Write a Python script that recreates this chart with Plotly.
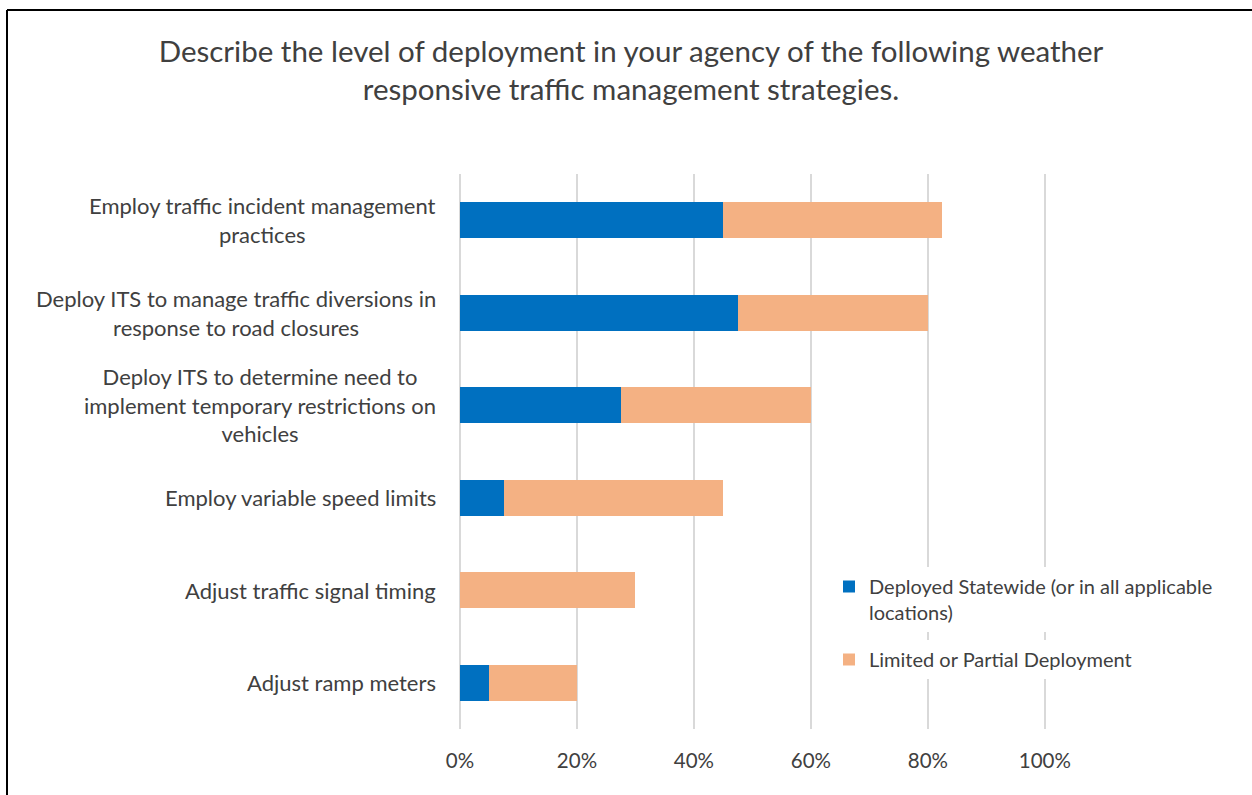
import plotly.graph_objects as go

categories = [
    "Employ traffic incident management<br>practices",
    "Deploy ITS to manage traffic diversions in<br>response to road closures",
    "Deploy ITS to determine need to<br>implement temporary restrictions on<br>vehicles",
    "Employ variable speed limits",
    "Adjust traffic signal timing",
    "Adjust ramp meters",
]
deployed_statewide = [0.45, 0.475, 0.275, 0.075, 0.0, 0.05]
limited_partial = [0.375, 0.325, 0.325, 0.375, 0.30, 0.15]
x_ticks = [0, 0.2, 0.4, 0.6, 0.8, 1.0]
x_tick_labels = ["0%", "20%", "40%", "60%", "80%", "100%"]

FONT = "Lato"
TXT = "#404040"
W, H = 1252, 795
L, R, T, B = 460, 206, 174, 66
pw = W - L - R
ph = H - T - B

def px(x):
    return (x - L) / pw

def py(y):
    return (H - B - y) / ph

fig = go.Figure()
fig.add_trace(go.Bar(
    y=categories, x=deployed_statewide, orientation="h",
    name="Deployed Statewide (or in all applicable<br>locations)",
    marker=dict(color="#0070C0", line=dict(width=0)),
    legend="legend", showlegend=True,
))
fig.add_trace(go.Bar(
    y=categories, x=limited_partial, orientation="h",
    name="Limited or Partial Deployment",
    marker=dict(color="#F4B183", line=dict(width=0)),
    legend="legend2", showlegend=True,
))

annotations = []
for c in categories:
    annotations.append(dict(
        x=px(438), xref="paper", y=c, yref="y",
        text=c, showarrow=False, xanchor="right", yanchor="middle",
        align="center", font=dict(family=FONT, size=22, color=TXT),
    ))

fig.update_layout(
    width=W, height=H,
    margin=dict(l=L, r=R, t=T, b=B),
    paper_bgcolor="white", plot_bgcolor="white",
    barmode="stack", bargap=0.61,
    showlegend=True,
    title=dict(
        text="Describe the level of deployment in your agency of the following weather<br>responsive traffic management strategies.",
        x=631 / W, xanchor="center", xref="container",
        y=1 - 62 / H, yanchor="middle", yref="container",
        font=dict(family=FONT, size=29.5, color=TXT),
    ),
    xaxis=dict(
        range=[0, 1.002], tickvals=x_ticks, ticktext=x_tick_labels,
        showgrid=True, gridcolor="#D9D9D9", gridwidth=1.5,
        zeroline=True, zerolinecolor="#D9D9D9", zerolinewidth=1.5,
        showline=False, ticks="",
        ticklabelstandoff=17,
        tickfont=dict(family=FONT, size=20.5, color=TXT),
    ),
    yaxis=dict(
        categoryorder="array", categoryarray=categories,
        autorange="reversed", showticklabels=False,
        showgrid=False, zeroline=False, showline=False, ticks="",
    ),
    legend=dict(
        x=px(829), y=py(567), xanchor="left", yanchor="top",
        bgcolor="white", valign="top",
        font=dict(family=FONT, size=20, color=TXT),
        itemwidth=30, traceorder="normal",
    ),
    legend2=dict(
        x=px(829), y=py(640), xanchor="left", yanchor="top",
        bgcolor="white", valign="top",
        font=dict(family=FONT, size=20, color=TXT),
        itemwidth=30,
    ),
    annotations=annotations,
    shapes=[
        dict(type="line", xref="paper", yref="paper",
             x0=px(7), x1=px(1270), y0=py(10), y1=py(10),
             line=dict(color="black", width=2)),
        dict(type="line", xref="paper", yref="paper",
             x0=px(7), x1=px(7), y0=py(10), y1=py(810),
             line=dict(color="black", width=2)),
    ],
)

fig.write_html("out.html")
